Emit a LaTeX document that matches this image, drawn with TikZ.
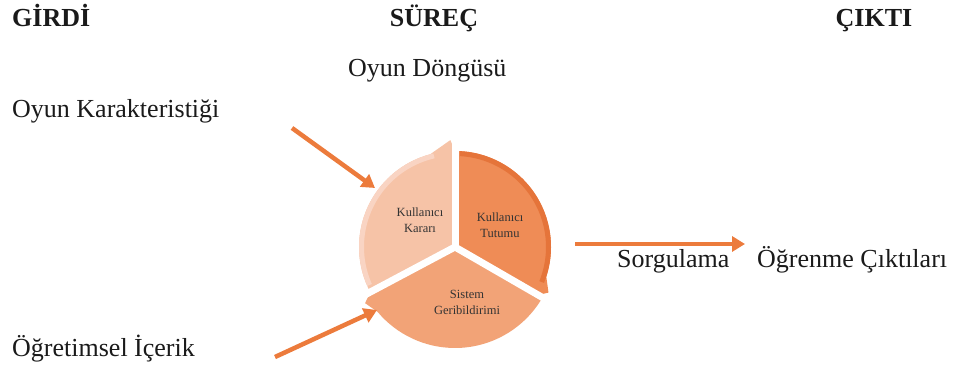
\documentclass[tikz,border=0pt]{standalone}
\usepackage{fontspec}
\setmainfont{Liberation Serif}
\usetikzlibrary{arrows.meta,calc}

\definecolor{arrorange}{HTML}{EC7B3C}
\definecolor{kararfill}{HTML}{F6C3A7}
\definecolor{kararband}{HTML}{F9D4C3}
\definecolor{tutumfill}{HTML}{EF8C56}
\definecolor{tutumband}{HTML}{E5743A}
\definecolor{sistemfill}{HTML}{F2A377}
\definecolor{inktext}{HTML}{1A1A1A}
\definecolor{slicetext}{HTML}{333333}

\tikzset{
  heading/.style={font=\fontsize{26}{30}\selectfont\bfseries, text=inktext, inner sep=0pt, anchor=base},
  label/.style={font=\fontsize{26}{30}\selectfont, text=inktext, inner sep=0pt, anchor=base west},
  slicelabel/.style={font=\fontsize{12.5}{16}\selectfont, text=slicetext, align=center, inner sep=0pt},
  flow/.style={draw=arrorange, line width=4.5pt, -{Triangle[length=13pt,width=15pt]}},
  gap/.style={draw=white, line width=7pt},
}

\begin{document}
\begin{tikzpicture}[x=1pt,y=1pt]
\useasboundingbox (0,0) rectangle (960,371);

% column headings
\node[heading, anchor=base west] (girdi) at (12,344) {GİRDİ};
\node[heading] (surec) at (434,344) {SÜREÇ};
\node[heading] (cikti) at (874,344) {ÇIKTI};

% texts
\node[label] (dongu) at (348,294) {Oyun Döngüsü};
\node[label] (karakter) at (12,253) {Oyun Karakteristiği};
\node[label] (icerik) at (12,14) {Öğretimsel İçerik};
\node[label] (sorgu) at (617,103) {Sorgulama};
\node[label] (ciktilar) at (757,103) {Öğrenme Çıktıları};

% cycle of three slices, each ending in a small barb
\coordinate (C) at (455,124);
\def\R{96}

% Kullanıcı Kararı
\fill[kararfill] (C) -- ($(C)+(208:\R)$) arc[start angle=208, end angle=105, radius=\R]
  -- ($(C)+(92.5:\R+11)$) -- ($(C)+(90:\R)$) -- cycle;
\draw[kararband, line width=5pt] ($(C)+(204:\R-2.5)$) arc[start angle=204, end angle=103, radius=\R-2.5];

% Kullanıcı Tutumu
\fill[tutumfill] (C) -- ($(C)+(90:\R)$) arc[start angle=90, end angle=-18, radius=\R]
  -- ($(C)+(-26:\R+8)$) -- ($(C)+(-30:\R)$) -- cycle;
\draw[tutumband, line width=5pt] ($(C)+(87:\R-2.5)$) arc[start angle=87, end angle=-22, radius=\R-2.5];

% Sistem Geribildirimi
\fill[sistemfill] (C) -- ($(C)+(330:\R+5)$) arc[start angle=330, end angle=220, radius=\R+5]
  -- ($(C)+(212:\R+10)$) -- ($(C)+(208:\R)$) -- cycle;

% white gaps between the slices
\draw[gap] (C) -- ($(C)+(90:\R+16)$);
\draw[gap] (C) -- ($(C)+(-30:\R+16)$);
\draw[gap] (C) -- ($(C)+(208:\R+16)$);

\node[slicelabel] (karar) at (420,151) {Kullanıcı\\Kararı};
\node[slicelabel] (tutum) at (500,146) {Kullanıcı\\Tutumu};
\node[slicelabel] (sistem) at (467,69) {Sistem\\Geribildirimi};

% flows
\coordinate (inA) at (292,243);
\coordinate (inAend) at (375,183);
\coordinate (inB) at (275,14);
\coordinate (inBend) at (377,61);
\coordinate (outA) at (575,127);
\coordinate (outAend) at (745,127);
\draw[flow] (inA) -- (inAend);
\draw[flow] (inB) -- (inBend);
\draw[flow] (outA) -- (outAend);
\end{tikzpicture}
\end{document}
